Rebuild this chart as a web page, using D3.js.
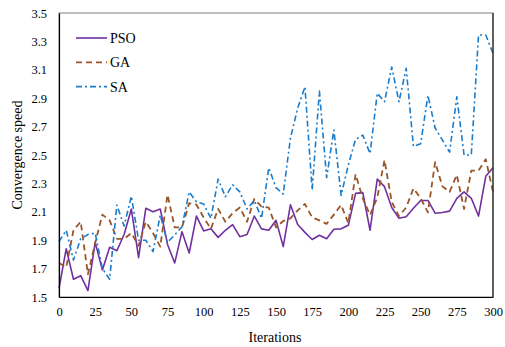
<!DOCTYPE html>
<html>
<head>
<meta charset="utf-8">
<script src="https://cdn.jsdelivr.net/npm/d3@7"></script>
<style>
  body { margin: 0; background: #fff; }
  svg { display: block; font-family: "Liberation Serif", "Times New Roman", serif; font-weight: normal; }
</style>
</head>
<body>
<div id="chart"></div>
<script>
// iterations 0..300, sampled every 5
const iterations = d3.range(0, 301, 5);

const psoValues = [
  1.56, 1.84, 1.625, 1.65, 1.545, 1.885, 1.69, 1.85, 1.826, 1.94,
  2.12, 1.777, 2.125, 2.10, 2.12, 1.87, 1.74, 1.96, 1.81, 2.07,
  1.965, 1.98, 1.92, 1.97, 2.01, 1.925, 1.94, 2.07, 1.98, 1.97,
  2.04, 1.855, 2.15, 2.01, 1.955, 1.905, 1.935, 1.91, 1.977, 1.98,
  2.005, 2.23, 2.235, 1.97, 2.33, 2.277, 2.13, 2.054, 2.065, 2.125,
  2.18, 2.18, 2.09, 2.095, 2.105, 2.195, 2.24, 2.195, 2.07, 2.35,
  2.41
];

const gaValues = [
  1.74, 1.71, 1.97, 2.03, 1.66, 1.88, 2.08, 2.04, 1.91, 1.91,
  1.95, 1.86, 2.03, 1.95, 1.855, 2.22, 1.99, 1.99, 2.16, 2.15,
  2.06, 1.98, 2.12, 2.03, 2.09, 2.13, 2.03, 2.19, 2.136, 2.13,
  1.99, 2.035, 2.054, 2.11, 2.155, 2.06, 2.04, 2.015, 2.08, 2.148,
  2.02, 2.364, 2.195, 2.077, 2.20, 2.465, 2.17, 2.07, 2.13, 2.265,
  2.195, 2.096, 2.45, 2.28, 2.24, 2.36, 2.12, 2.39, 2.39, 2.47,
  2.24
];

const saValues = [
  1.89, 1.97, 1.76, 1.91, 1.94, 1.95, 1.70, 1.625, 2.148, 2.0,
  2.21, 1.90, 1.90, 1.82, 2.077, 1.885, 1.937, 1.995, 2.24, 2.17,
  2.155, 2.054, 2.33, 2.206, 2.29, 2.24, 2.12, 2.18, 2.054, 2.41,
  2.27, 2.225, 2.62, 2.83, 2.98, 2.254, 2.95, 2.34, 2.676, 2.215,
  2.43, 2.61, 2.64, 2.51, 2.935, 2.875, 3.12, 2.875, 3.11, 2.56,
  2.58, 2.92, 2.69, 2.606, 2.52, 2.91, 2.50, 2.50, 3.345, 3.345,
  3.216
];

const xTicks = [0, 25, 50, 75, 100, 125, 150, 175, 200, 225, 250, 275, 300];
const yTicks = [1.5, 1.7, 1.9, 2.1, 2.3, 2.5, 2.7, 2.9, 3.1, 3.3, 3.5];

const series = [
  { name: "PSO", values: psoValues, color: "#7030a0", width: 1.6, dash: null },
  { name: "GA", values: gaValues, color: "#9a5529", width: 1.8, dash: "6,4" },
  { name: "SA", values: saValues, color: "#1a7ccc", width: 1.6, dash: "6,3,2,3" }
];

const width = 505, height = 347;
const margin = { left: 59, right: 12, top: 13, bottom: 50 };

const svg = d3.select("#chart").append("svg")
  .attr("width", width)
  .attr("height", height);

const x = d3.scaleLinear()
  .domain([0, 300])
  .range([margin.left, width - margin.right]);

const y = d3.scaleLinear()
  .domain([1.5, 3.5])
  .range([height - margin.bottom, margin.top]);

// plot frame
svg.append("rect")
  .attr("x", x(0)).attr("y", y(3.5))
  .attr("width", x(300) - x(0)).attr("height", y(1.5) - y(3.5))
  .attr("fill", "none").attr("stroke", "#7f7f7f").attr("stroke-width", 1);

const line = d3.line()
  .x((d, i) => x(iterations[i]))
  .y(d => y(d));

series.forEach(s => {
  svg.append("path")
    .datum(s.values)
    .attr("fill", "none")
    .attr("stroke", s.color)
    .attr("stroke-width", s.width)
    .attr("stroke-dasharray", s.dash)
    .attr("stroke-linejoin", "round")
    .attr("d", line);
});

// axes
const xAxis = svg.append("g")
  .attr("transform", "translate(0," + y(1.5) + ")")
  .call(d3.axisBottom(x).tickValues(xTicks).tickSize(0).tickPadding(10).tickFormat(d3.format("d")));

const yAxis = svg.append("g")
  .attr("transform", "translate(" + x(0) + ",0)")
  .call(d3.axisLeft(y).tickValues(yTicks).tickSize(0).tickPadding(12).tickFormat(d3.format(".1f")));

[xAxis, yAxis].forEach(g => {
  g.select(".domain").attr("stroke", "#000").attr("stroke-width", 1.2);
  g.selectAll("text")
    .attr("font-family", "Liberation Serif, Times New Roman, serif")
    .attr("font-size", 12.5)
    .attr("fill", "#000");
});

// right edge a little darker, like the reference
svg.append("line")
  .attr("x1", x(300)).attr("x2", x(300))
  .attr("y1", y(3.5)).attr("y2", y(1.5))
  .attr("stroke", "#222").attr("stroke-width", 1.2);

// axis titles
svg.append("text")
  .attr("x", (x(0) + x(300)) / 2 - 1)
  .attr("y", 342)
  .attr("text-anchor", "middle")
  .attr("font-size", 14)
  .text("Iterations");

svg.append("text")
  .attr("transform", "translate(22," + ((y(1.5) + y(3.5)) / 2) + ") rotate(-90)")
  .attr("text-anchor", "middle")
  .attr("font-size", 14)
  .text("Convergence speed");

// legend
const legend = svg.append("g");
series.forEach((s, i) => {
  const ly = 38 + i * 24.3;
  legend.append("line")
    .attr("x1", 76).attr("x2", 107)
    .attr("y1", ly).attr("y2", ly)
    .attr("stroke", s.color)
    .attr("stroke-width", s.width)
    .attr("stroke-dasharray", s.dash);
  legend.append("text")
    .attr("x", 110)
    .attr("y", ly + 5)
    .attr("font-size", 14)
    .text(s.name);
});
</script>
</body>
</html>
